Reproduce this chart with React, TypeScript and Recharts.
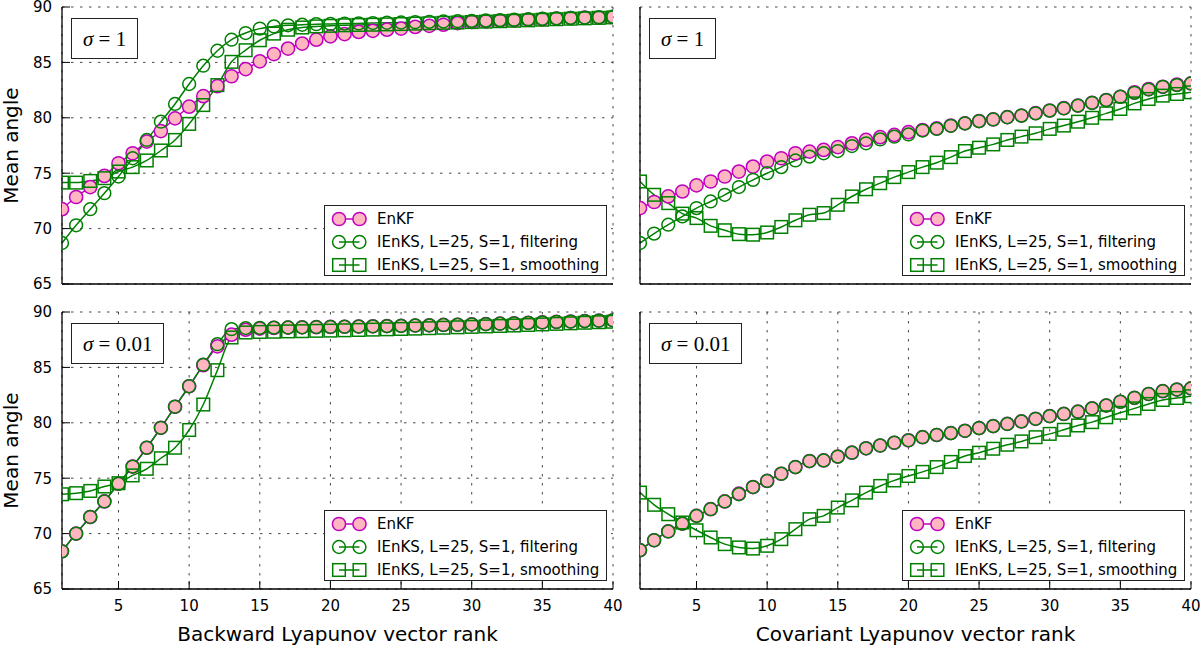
import React from 'react';
import { LineChart, Line, XAxis, YAxis, CartesianGrid, Legend } from 'recharts';

// ---------- data ----------
const RANKS = [1, 2, 3, 4, 5, 6, 7, 8, 9, 10, 11, 12, 13, 14, 15, 16, 17, 18, 19, 20,
  21, 22, 23, 24, 25, 26, 27, 28, 29, 30, 31, 32, 33, 34, 35, 36, 37, 38, 39, 40];

// Backward Lyapunov vectors, sigma = 1
const BWD_S1_ENKF = [71.75, 72.85, 73.75, 74.75, 75.9, 76.8, 77.85, 78.8, 79.95, 81.0,
  81.95, 82.85, 83.75, 84.4, 85.1, 85.75, 86.25, 86.7, 87.05, 87.35,
  87.55, 87.75, 87.85, 87.95, 88.05, 88.2, 88.3, 88.4, 88.55, 88.65,
  88.7, 88.75, 88.8, 88.85, 88.9, 88.95, 89.0, 89.05, 89.05, 89.1];
const BWD_S1_FILT = [68.7, 70.3, 71.75, 73.2, 74.7, 76.35, 78.0, 79.65, 81.25, 83.05,
  84.7, 86.05, 87.05, 87.65, 88.05, 88.25, 88.35, 88.4, 88.45, 88.47,
  88.5, 88.52, 88.55, 88.58, 88.6, 88.63, 88.66, 88.69, 88.72, 88.75,
  88.78, 88.82, 88.86, 88.9, 88.94, 88.98, 89.02, 89.05, 89.08, 89.12];
const BWD_S1_SMOOTH = [74.15, 74.15, 74.3, 74.55, 75.15, 75.55, 76.15, 77.05, 78.0, 79.45,
  81.15, 82.95, 85.05, 86.1, 87.0, 87.6, 87.95, 88.15, 88.25, 88.3,
  88.35, 88.38, 88.4, 88.43, 88.46, 88.5, 88.53, 88.57, 88.6, 88.64,
  88.68, 88.72, 88.76, 88.8, 88.85, 88.9, 88.94, 88.98, 89.02, 89.06];

// Backward Lyapunov vectors, sigma = 0.01
const BWD_S001_ENKF = [68.4, 70.0, 71.5, 72.9, 74.5, 76.05, 77.75, 79.55, 81.45, 83.3,
  85.2, 86.9, 87.95, 88.4, 88.5, 88.56, 88.59, 88.61, 88.63, 88.65,
  88.67, 88.69, 88.71, 88.73, 88.75, 88.78, 88.8, 88.83, 88.85, 88.88,
  88.91, 88.95, 88.98, 89.02, 89.06, 89.1, 89.14, 89.18, 89.22, 89.25];
const BWD_S001_FILT = [68.4, 70.0, 71.5, 72.9, 74.5, 76.05, 77.75, 79.55, 81.45, 83.3,
  85.25, 87.1, 88.45, 88.55, 88.57, 88.59, 88.6, 88.62, 88.64, 88.65,
  88.67, 88.69, 88.71, 88.73, 88.75, 88.78, 88.8, 88.83, 88.85, 88.88,
  88.91, 88.95, 88.98, 89.02, 89.06, 89.1, 89.14, 89.18, 89.22, 89.25];
const BWD_S001_SMOOTH = [73.55, 73.65, 73.85, 74.25, 74.55, 75.25, 75.85, 76.8, 77.75, 79.35,
  81.65, 84.75, 87.7, 88.15, 88.2, 88.22, 88.25, 88.27, 88.3, 88.32,
  88.35, 88.38, 88.41, 88.44, 88.47, 88.5, 88.54, 88.58, 88.62, 88.66,
  88.7, 88.74, 88.78, 88.83, 88.88, 88.93, 88.98, 89.03, 89.08, 89.12];

// Covariant Lyapunov vectors, sigma = 1
const COV_S1_ENKF = [71.85, 72.4, 72.9, 73.35, 73.9, 74.25, 74.7, 75.15, 75.6, 76.05,
  76.35, 76.8, 76.95, 77.1, 77.35, 77.7, 78.0, 78.25, 78.45, 78.7,
  78.9, 79.05, 79.3, 79.5, 79.7, 79.85, 80.06, 80.2, 80.42, 80.66,
  80.87, 81.1, 81.35, 81.6, 81.9, 82.3, 82.6, 82.8, 83.0, 83.1];
const COV_S1_FILT = [68.7, 69.55, 70.35, 71.1, 71.85, 72.45, 73.05, 73.75, 74.4, 75.0,
  75.55, 76.15, 76.5, 76.8, 77.0, 77.45, 77.7, 78.05, 78.3, 78.5,
  78.85, 79.0, 79.28, 79.5, 79.7, 79.85, 80.05, 80.2, 80.4, 80.65,
  80.85, 81.1, 81.35, 81.6, 81.9, 82.25, 82.55, 82.8, 82.95, 83.1];
const COV_S1_SMOOTH = [74.25, 73.05, 72.3, 71.35, 70.95, 70.25, 69.85, 69.5, 69.45, 69.65,
  70.15, 70.75, 71.25, 71.4, 72.15, 72.9, 73.55, 74.1, 74.65, 75.1,
  75.55, 75.95, 76.45, 77.0, 77.3, 77.6, 78.0, 78.3, 78.6, 79.0,
  79.3, 79.65, 80.0, 80.4, 80.8, 81.3, 81.7, 82.0, 82.15, 82.3];

// Covariant Lyapunov vectors, sigma = 0.01
const COV_S001_ENKF = [68.5, 69.4, 70.2, 70.9, 71.6, 72.2, 72.9, 73.6, 74.2, 74.75,
  75.4, 76.0, 76.55, 76.6, 76.95, 77.3, 77.7, 77.95, 78.2, 78.42,
  78.7, 78.9, 79.07, 79.28, 79.52, 79.7, 79.9, 80.12, 80.36, 80.6,
  80.8, 81.0, 81.3, 81.56, 81.9, 82.25, 82.6, 82.85, 83.0, 83.1];
const COV_S001_FILT = [68.5, 69.4, 70.2, 70.9, 71.6, 72.2, 72.9, 73.55, 74.2, 74.75,
  75.4, 76.0, 76.55, 76.6, 76.95, 77.3, 77.7, 77.95, 78.2, 78.42,
  78.7, 78.9, 79.07, 79.28, 79.52, 79.7, 79.9, 80.12, 80.36, 80.6,
  80.8, 81.0, 81.3, 81.56, 81.9, 82.25, 82.6, 82.85, 83.0, 83.1];
const COV_S001_SMOOTH = [73.7, 72.6, 71.75, 71.0, 70.3, 69.65, 69.05, 68.75, 68.65, 68.9,
  69.5, 70.4, 71.3, 71.6, 72.35, 73.0, 73.7, 74.3, 74.8, 75.2,
  75.57, 76.0, 76.47, 77.0, 77.3, 77.66, 78.02, 78.32, 78.7, 79.0,
  79.37, 79.76, 80.06, 80.5, 80.9, 81.3, 81.7, 82.06, 82.24, 82.4];

const X_TICKS = [5, 10, 15, 20, 25, 30, 35, 40];
const Y_TICKS = [65, 70, 75, 80, 85, 90];
const X_DOMAIN = [1, 40];
const Y_DOMAIN = [65, 90];
const SERIES_NAMES = ['EnKF', 'IEnKS, L=25, S=1, filtering', 'IEnKS, L=25, S=1, smoothing'];
const SIGMA_VALUES = ['1', '0.01'];
const X_TITLES = ['Backward Lyapunov vector rank', 'Covariant Lyapunov vector rank'];
const Y_TITLE = 'Mean angle';

// ---------- styles ----------
const MAGENTA = '#BF00BF';
const PINK = '#FFB6C1';
const GREEN = '#008000';
const SANS = '"DejaVu Sans", sans-serif';
const SERIF = '"Liberation Serif", "DejaVu Serif", serif';

const buildRows = (enkf: number[], filt: number[], smooth: number[]) =>
  RANKS.map((rank, i) => ({ rank, enkf: enkf[i], filt: filt[i], smooth: smooth[i] }));

const PinkDot = (p: any) =>
  p.cx == null ? null : (
    <circle key={`pk-${p.index}`} cx={p.cx} cy={p.cy} r={6.6} fill={PINK} stroke={MAGENTA} strokeWidth={1.5} />
  );
const GreenCircle = (p: any) =>
  p.cx == null ? null : (
    <circle key={`gc-${p.index}`} cx={p.cx} cy={p.cy} r={6.4} fill="none" stroke={GREEN} strokeWidth={1.5} />
  );
const GreenSquare = (p: any) =>
  p.cx == null ? null : (
    <rect key={`gs-${p.index}`} x={p.cx - 6.3} y={p.cy - 6.3} width={12.6} height={12.6} fill="none" stroke={GREEN} strokeWidth={1.5} />
  );

const LegendIcon = ({ kind }: { kind: number }) => (
  <svg width={52} height={22} style={{ display: 'block', flex: '0 0 auto' }}>
    <line x1={14} y1={11} x2={34.5} y2={11} stroke={kind === 0 ? MAGENTA : GREEN} strokeWidth={1.5} />
    {[14, 34.5].map((cx) =>
      kind === 0 ? (
        <circle key={cx} cx={cx} cy={11} r={6.6} fill={PINK} stroke={MAGENTA} strokeWidth={1.5} />
      ) : kind === 1 ? (
        <circle key={cx} cx={cx} cy={11} r={6.4} fill="none" stroke={GREEN} strokeWidth={1.5} />
      ) : (
        <rect key={cx} x={cx - 6.3} y={11 - 6.3} width={12.6} height={12.6} fill="none" stroke={GREEN} strokeWidth={1.5} />
      )
    )}
  </svg>
);

const LegendBox = () => (
  <div
    style={{
      width: 283,
      height: 71,
      boxSizing: 'border-box',
      border: '1px solid #222',
      background: '#fff',
      paddingTop: 1,
      fontFamily: SANS,
      fontSize: 15,
      color: '#000',
    }}
  >
    {SERIES_NAMES.map((name, k) => (
      <div key={name} style={{ display: 'flex', alignItems: 'center', height: 23, whiteSpace: 'nowrap' }}>
        <LegendIcon kind={k} />
        <span>{name}</span>
      </div>
    ))}
  </div>
);

type PanelProps = {
  left: number;
  top: number;
  height: number;
  marginTop: number;
  rows: any[];
  showXLabels: boolean;
  showYLabels: boolean;
  xTitle?: string;
  sigma: string;
};

const PLOT_H = 277;
const CHART_W = 622;

function Panel({ left, top, height, marginTop, rows, showXLabels, showYLabels, xTitle, sigma }: PanelProps) {
  const xAxisHeight = height - marginTop - PLOT_H;
  const tickStyle = { fill: '#000', fontSize: 15, fontFamily: SANS };
  const yTitle = (props: any) => {
    const vb = props.viewBox || {};
    const cy = vb.y + vb.height / 2;
    return (
      <text x={17.5} y={cy} transform={`rotate(-90 17.5 ${cy})`} textAnchor="middle" fontFamily={SANS} fontSize={20} fill="#000">
        {Y_TITLE}
      </text>
    );
  };
  const xTitleRender = (props: any) => {
    const vb = props.viewBox || {};
    return (
      <text x={vb.x + vb.width / 2} y={vb.y + 52} textAnchor="middle" fontFamily={SANS} fontSize={20} fill="#000">
        {xTitle}
      </text>
    );
  };
  return (
    <div style={{ position: 'absolute', left, top, width: CHART_W, height }}>
      <LineChart width={CHART_W} height={height} data={rows} margin={{ top: marginTop, right: 9, left: 0, bottom: 0 }}>
        <CartesianGrid stroke="#333" strokeWidth={0.9} strokeDasharray="2.5 6.5" />
        <XAxis
          dataKey="rank"
          type="number"
          domain={X_DOMAIN}
          ticks={X_TICKS}
          interval={0}
          allowDataOverflow
          height={xAxisHeight}
          stroke="#000"
          axisLine={{ stroke: '#000', strokeWidth: 1.3 }}
          tickLine={{ stroke: '#000', strokeWidth: 1 }}
          tickSize={-8}
          tickMargin={19}
          tick={showXLabels ? tickStyle : false}
          label={xTitle ? xTitleRender : undefined}
        />
        <XAxis
          xAxisId="top"
          orientation="top"
          dataKey="rank"
          type="number"
          domain={X_DOMAIN}
          ticks={X_TICKS}
          interval={0}
          allowDataOverflow
          height={0}
          stroke="#000"
          axisLine={{ stroke: '#000', strokeWidth: 1.3 }}
          tickLine={{ stroke: '#000', strokeWidth: 1 }}
          tickSize={-8}
          tick={false}
        />
        <YAxis
          type="number"
          domain={Y_DOMAIN}
          ticks={Y_TICKS}
          interval={0}
          allowDataOverflow
          width={62}
          stroke="#000"
          axisLine={{ stroke: '#000', strokeWidth: 1.3 }}
          tickLine={{ stroke: '#000', strokeWidth: 1 }}
          tickSize={-8}
          tickMargin={18}
          tick={showYLabels ? tickStyle : false}
          label={showYLabels ? yTitle : undefined}
        />
        <YAxis
          yAxisId="right"
          orientation="right"
          type="number"
          domain={Y_DOMAIN}
          ticks={Y_TICKS}
          interval={0}
          allowDataOverflow
          width={0}
          stroke="#000"
          axisLine={{ stroke: '#000', strokeWidth: 1.3 }}
          tickLine={{ stroke: '#000', strokeWidth: 1 }}
          tickSize={-8}
          tick={false}
        />
        <Line
          dataKey="enkf"
          name={SERIES_NAMES[0]}
          type="monotone"
          stroke={MAGENTA}
          strokeWidth={1.5}
          dot={PinkDot}
          activeDot={false}
          isAnimationActive={false}
        />
        <Line
          dataKey="filt"
          name={SERIES_NAMES[1]}
          type="monotone"
          stroke={GREEN}
          strokeWidth={1.5}
          dot={GreenCircle}
          activeDot={false}
          isAnimationActive={false}
        />
        <Line
          dataKey="smooth"
          name={SERIES_NAMES[2]}
          type="monotone"
          stroke={GREEN}
          strokeWidth={1.5}
          dot={GreenSquare}
          activeDot={false}
          isAnimationActive={false}
        />
        <Legend
          layout="vertical"
          align="center"
          verticalAlign="middle"
          wrapperStyle={{ left: 324, top: marginTop + 198, width: 283 }}
          content={() => <LegendBox />}
        />
      </LineChart>
      <div
        style={{
          position: 'absolute',
          left: 71,
          top: marginTop + 11,
          height: 41,
          lineHeight: '41px',
          padding: '0 11px',
          boxSizing: 'border-box',
          border: '1px solid #222',
          background: '#fff',
          fontFamily: SERIF,
          fontSize: 21,
          color: '#000',
          whiteSpace: 'nowrap',
        }}
      >
        <span style={{ fontStyle: 'italic' }}>σ</span>
        <span> = {sigma}</span>
      </div>
    </div>
  );
}

export default function App() {
  return (
    <div style={{ position: 'absolute', left: 0, top: 0, width: 1200, height: 647, background: '#fff', overflow: 'hidden' }}>
      <Panel
        left={0}
        top={0}
        height={295}
        marginTop={7}
        rows={buildRows(BWD_S1_ENKF, BWD_S1_FILT, BWD_S1_SMOOTH)}
        showXLabels={false}
        showYLabels
        sigma={SIGMA_VALUES[0]}
      />
      <Panel
        left={578}
        top={0}
        height={295}
        marginTop={7}
        rows={buildRows(COV_S1_ENKF, COV_S1_FILT, COV_S1_SMOOTH)}
        showXLabels={false}
        showYLabels={false}
        sigma={SIGMA_VALUES[0]}
      />
      <Panel
        left={0}
        top={295}
        height={352}
        marginTop={17}
        rows={buildRows(BWD_S001_ENKF, BWD_S001_FILT, BWD_S001_SMOOTH)}
        showXLabels
        showYLabels
        xTitle={X_TITLES[0]}
        sigma={SIGMA_VALUES[1]}
      />
      <Panel
        left={578}
        top={295}
        height={352}
        marginTop={17}
        rows={buildRows(COV_S001_ENKF, COV_S001_FILT, COV_S001_SMOOTH)}
        showXLabels
        showYLabels={false}
        xTitle={X_TITLES[1]}
        sigma={SIGMA_VALUES[1]}
      />
    </div>
  );
}
